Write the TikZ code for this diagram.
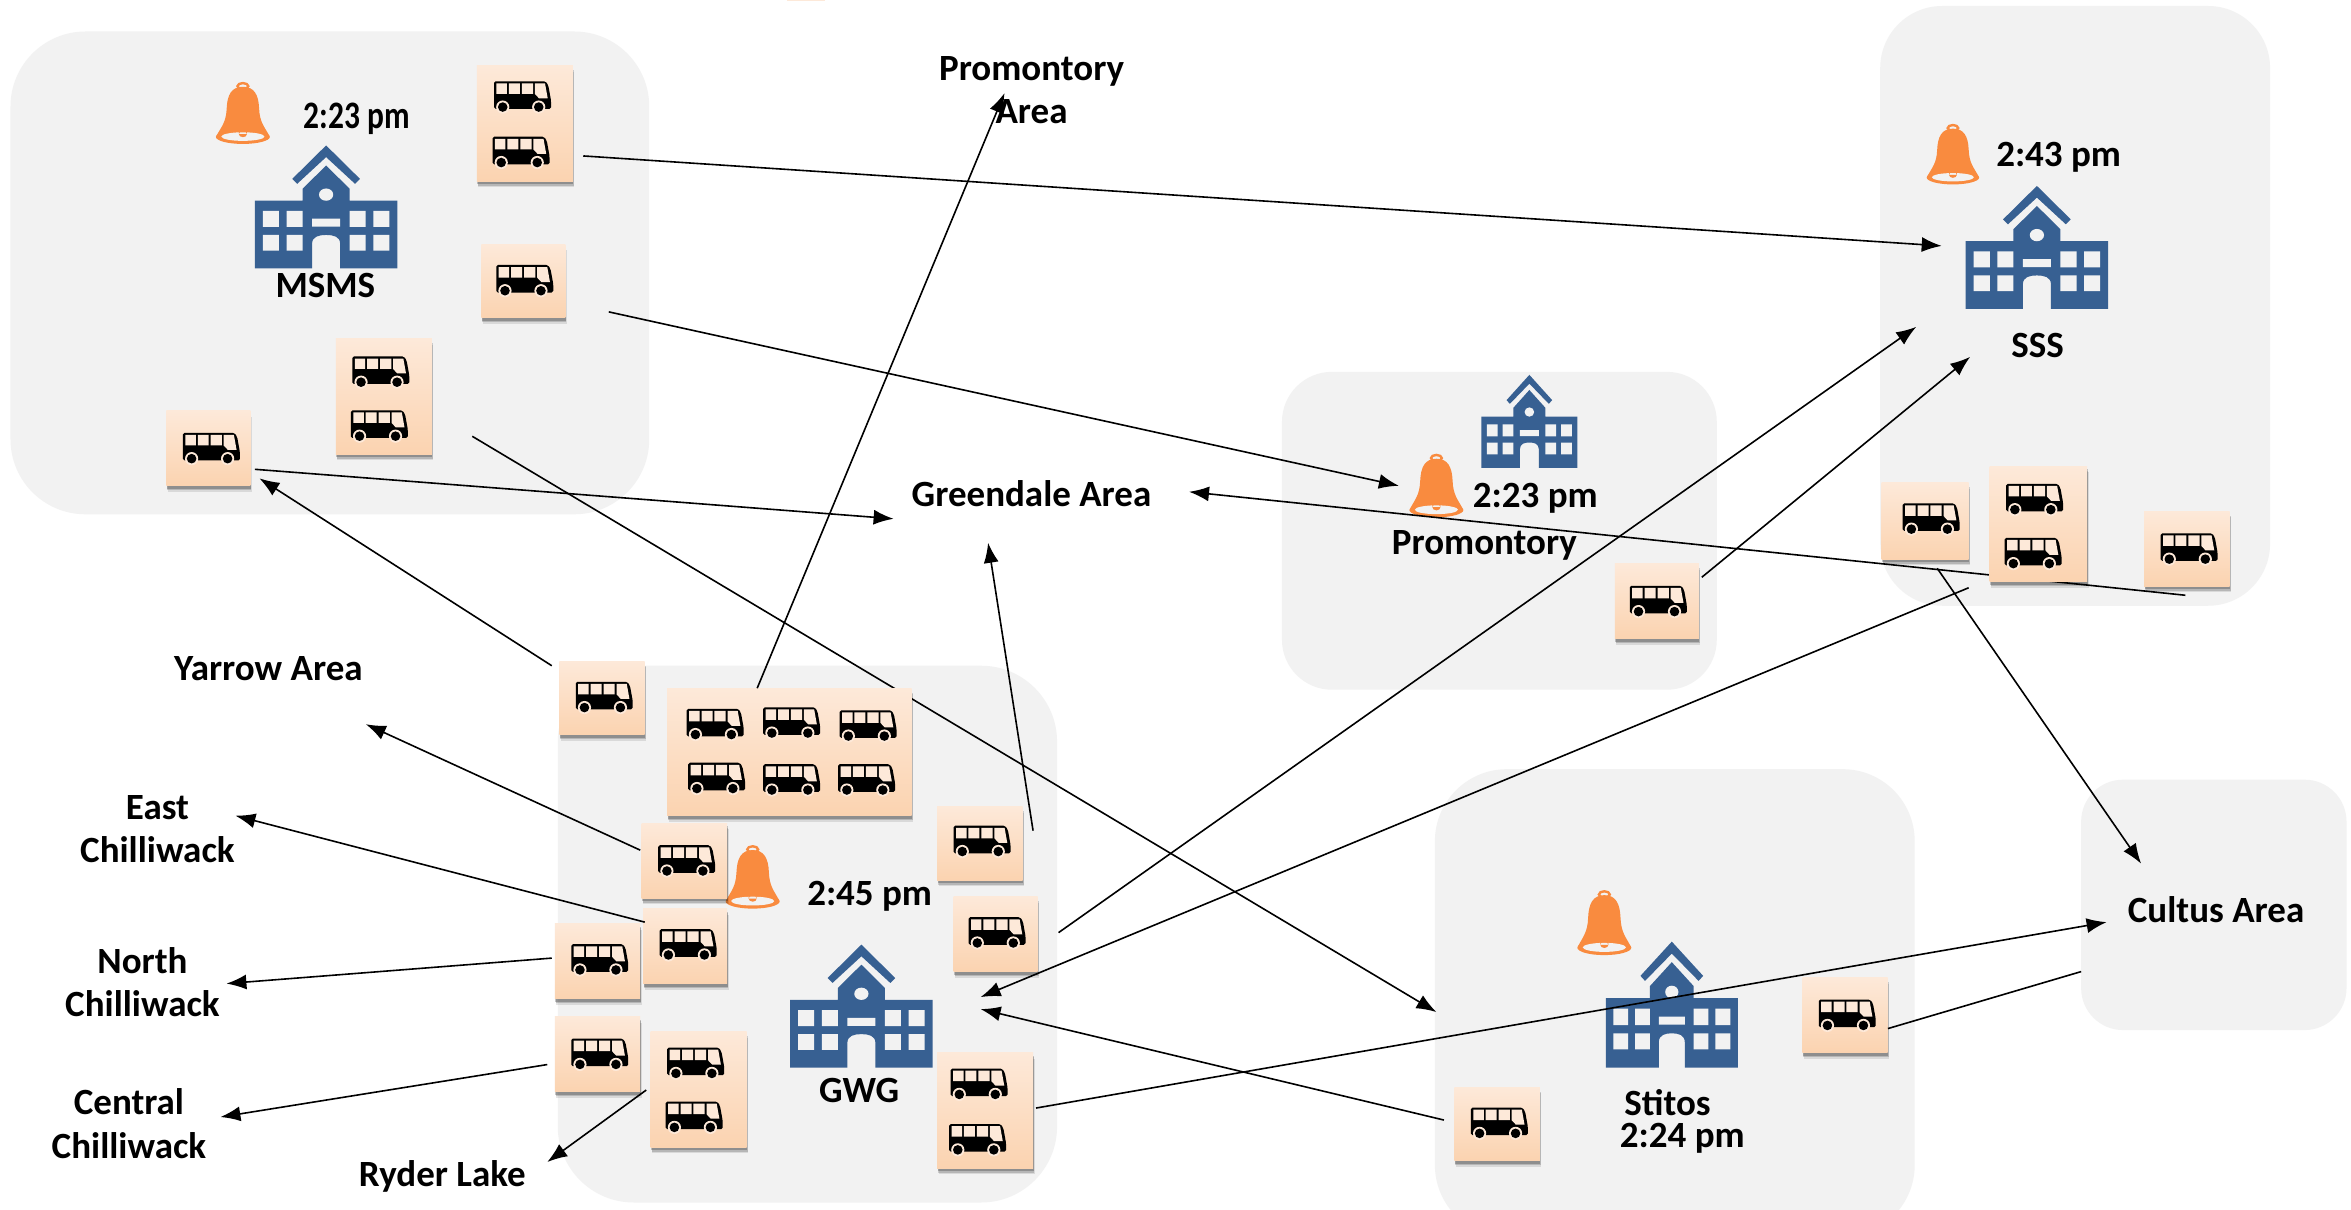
\documentclass[tikz,border=0pt]{standalone}
\usepackage{fontspec}
\setmainfont{Carlito}
\usetikzlibrary{arrows.meta,shadows}
\definecolor{panelgray}{HTML}{F2F2F2}
\definecolor{schoolblue}{HTML}{376092}
\definecolor{bellorange}{HTML}{F98B3F}
\definecolor{peachtop}{HTML}{FDE9D9}
\definecolor{peachmid}{HTML}{FCE2CE}
\definecolor{peachbot}{HTML}{FBD3B0}
\tikzset{
  panel/.style={fill=panelgray,inner sep=0pt,rectangle},
  busbox/.style={rectangle,inner sep=0pt,top color=peachtop,middle color=peachmid,bottom color=peachbot,
    general shadow={shadow xshift=1.5pt,shadow yshift=-6pt,opacity=.10,fill=black},
    general shadow={shadow xshift=1pt,shadow yshift=-4.5pt,opacity=.16,fill=black},
    general shadow={shadow xshift=0.5pt,shadow yshift=-3pt,opacity=.22,fill=black}},
  lbl/.style={font=\fontsize{37}{43.5}\selectfont\bfseries,align=center,inner sep=0pt,text=black},
  conn/.style={draw=black,line width=1.6pt,-{Latex[length=20pt,width=15pt]}},
  plainconn/.style={draw=black,line width=1.6pt}
}
\newcommand{\panelbox}[6]{\node[panel,rounded corners=#6pt,minimum width={(#4-#2)*1.4994pt},minimum height={(#5-#3)*1.4994pt}] (#1) at ({(#2+#4)/2},{(#3+#5)/2}) {};}
\newcommand{\bbox}[5]{\node[busbox,minimum width={(#4-#2)*1.4994pt},minimum height={(#5-#3)*1.4994pt}] (#1) at ({(#2+#4)/2},{(#3+#5)/2}) {};}
\newcommand{\busicon}[2]{%
  \begin{scope}[shift={({#1-19},{#2-10.5})}]
    \fill[black,rounded corners=1.6pt] (0,18.6) -- (0,0.2) -- (34.4,0.2) -- (36.2,3) -- (38,13) -- (38,18.6) -- cycle;
    \fill[peachtop] (1.6,1.6) rectangle (8.6,8.6) (9.9,1.6) rectangle (17.2,8.6) (18.5,1.6) rectangle (26,8.6);
    \fill[peachtop] (27.2,1.6) -- (34,1.6) -- (35.8,11.6) -- (30,11.6) -- (27.2,8.6) -- cycle;
    \fill[peachtop] (5.8,17.4) circle (4.4) (29.8,17.4) circle (4.4);
    \fill[black] (5.8,17.4) circle (3.2) (29.8,17.4) circle (3.2);
  \end{scope}}
\newcommand{\schoolicon}[4]{%
  \begin{scope}[shift={(#1,#2)},xscale=#3,yscale=#4]
    \fill[schoolblue] (0,0) -- (.475,.272) -- (.406,.312) -- (0,.095) -- (-.406,.312) -- (-.475,.272) -- cycle;
    \fill[schoolblue] (-1,1) -- (-1,.449) -- (-.331,.449) -- (-.331,.353) -- (0,.163) -- (.331,.353) -- (.331,.449) -- (1,.449) -- (1,1) -- (.197,1) -- (.197,.80) .. controls (.197,.74) and (.1,.728) .. (0,.728) .. controls (-.1,.728) and (-.197,.74) .. (-.197,.80) -- (-.197,1) -- cycle;
    \fill[panelgray] (-.887,.533) rectangle (-.662,.663) (-.556,.533) rectangle (-.331,.663) (.331,.533) rectangle (.556,.663) (.662,.533) rectangle (.887,.663)
      (-.887,.728) rectangle (-.662,.856) (-.556,.728) rectangle (-.331,.856) (.331,.728) rectangle (.556,.856) (.662,.728) rectangle (.887,.856)
      (-.197,.595) rectangle (.197,.66);
    \fill[panelgray] (0,.40) ellipse [x radius=.1,y radius=.05];
  \end{scope}}
\newcommand{\bellicon}[4]{%
  \begin{scope}[shift={(#1,#2)},xscale=#3,yscale=#4]
    \draw[bellorange,line width=2.4pt] (0,.06) ellipse [x radius=.2,y radius=.05];
    \fill[bellorange] (0,.07) .. controls (.42,.07) and (.58,.2) .. (.6,.42) .. controls (.62,.65) and (.8,.72) .. (.97,.86) -- (-.97,.86) .. controls (-.8,.72) and (-.62,.65) .. (-.6,.42) .. controls (-.58,.2) and (-.42,.07) .. (0,.07) -- cycle;
    \fill[bellorange] (0,.885) ellipse [x radius=1,y radius=.115];
    \fill[panelgray] (0,.88) ellipse [x radius=.8,y radius=.07];
    \fill[bellorange] (-.15,.74) rectangle (.15,.84) (0,.84) ellipse [x radius=.15,y radius=.05];
  \end{scope}}
\begin{document}
\begin{tikzpicture}[x=1.4994pt,y=-1.4994pt]
\path[clip] (0,0) rectangle (1568,807);
\fill[white] (0,0) rectangle (1568,807);
% panels
\panelbox{pMSMS}{7}{21}{433}{343}{75}
\panelbox{pProm}{855}{248}{1145}{460}{50}
\panelbox{pSSS}{1254}{4}{1514}{404}{62}
\panelbox{pGWG}{372}{444}{705}{802}{76}
\panelbox{pStitos}{957}{513}{1277}{825}{72}
\panelbox{pCultus}{1388}{520}{1565}{687}{42}
\node[rectangle,fill=peachtop,inner sep=0pt,minimum width=37.5pt,minimum height=15pt] (topstub) at (537.5,-4.2) {};
% labels
\node[lbl] (tMSMS) at (238,79) {\scalebox{.85}[1.05]{2:23 pm}};
\node[lbl] (nMSMS) at (217,190.5) {MSMS};
\node[lbl] (aProm) at (688,60) {Promontory\\Area};
\node[lbl] (aGreen) at (688,329.5) {Greendale Area};
\node[lbl] (aYarrow) at (179,446) {Yarrow Area};
\node[lbl] (aEast) at (105,553) {East\\Chilliwack};
\node[lbl] (aNorth) at (95,655) {North\\Chilliwack};
\node[lbl] (aCentral) at (86,749.5) {Central\\Chilliwack};
\node[lbl] (aRyder) at (295,784.5) {Ryder Lake};
\node[lbl] (tSSS) at (1373,105) {2:43 pm};
\node[lbl] (nSSS) at (1359,230.5) {SSS};
\node[lbl] (tProm) at (1024,332) {2:23 pm};
\node[lbl] (nProm) at (990,364) {Promontory};
\node[lbl] (tGWG) at (580,598) {2:45 pm};
\node[lbl] (nGWG) at (573,727) {GWG};
\node[lbl,font=\fontsize{37}{32}\selectfont\bfseries,align=left] (nStitos) at (1122,748) {\hspace*{4.5pt}Stitos\\2:24 pm};
\node[lbl] (aCultus) at (1478,607) {Cultus Area};
% schools and bells
\schoolicon{217.5}{97}{47.5}{82}
\schoolicon{574.5}{630}{47.5}{82}
\schoolicon{1358.5}{124}{47.5}{82}
\schoolicon{1020}{250}{32}{62}
\schoolicon{1115}{628}{44}{84}
\bellicon{162}{55}{18}{41}
\bellicon{502}{564}{18}{42}
\bellicon{1302.5}{83}{17.5}{40}
\bellicon{958}{303}{18}{42}
\bellicon{1070}{594}{18}{43}
% bus boxes (F and Q are drawn after the lines they hide)
\bbox{A}{318}{44}{382}{121}
\bbox{B}{321}{163}{377}{212}
\bbox{C}{224}{226}{288}{303}
\bbox{D}{111}{274}{167}{324}
\bbox{E}{373}{441}{430}{490}
\bbox{G}{428}{549}{485}{599}
\bbox{H}{429}{606}{485}{656}
\bbox{I}{370}{616}{427}{666}
\bbox{J}{370}{678}{427}{728}
\bbox{K}{434}{688}{498}{765}
\bbox{L}{625}{538}{682}{587}
\bbox{M}{636}{598}{692}{648}
\bbox{N}{625}{702}{689}{779}
\bbox{O}{1077}{376}{1133}{426}
\bbox{P}{1255}{322}{1313}{373}
\bbox{R}{1430}{341}{1487}{391}
\bbox{S}{970}{725}{1027}{774}
\bbox{T}{1202}{652}{1259}{702}
% free ends
\coordinate (eSSSa) at (1295,164);
\coordinate (eSSSb) at (1278,218);
\coordinate (eSSSc) at (1314,238);
\coordinate (ePromA) at (933,324);
\coordinate (eStitos) at (958,675);
\coordinate (eGreenA) at (596,346);
\coordinate (eGreenB) at (659,362);
\coordinate (eGreenC) at (793,328);
\coordinate (eD) at (173,319);
\coordinate (eAreaP) at (670,62);
\coordinate (eYarrow) at (244,483);
\coordinate (eEast) at (157,544);
\coordinate (eNorth) at (151,656);
\coordinate (eCentral) at (147,745);
\coordinate (eRyder) at (365,775);
\coordinate (eGWGa) at (654,665);
\coordinate (eGWGb) at (654,673);
\coordinate (eCultA) at (1428,576);
\coordinate (eCultB) at (1405,615);
\coordinate (sCult) at (1388,648);
% connectors hidden by boxes F and Q
\draw[conn] ([shift={(59,26.5)}]C.center) -- (eStitos);
\draw[conn] ([shift={(-1,31)}]R.center) -- (eGreenC);
\bbox{F}{445}{459}{608}{544}
\bbox{Q}{1327}{311}{1392}{388}
% buses
\busicon{348.5}{64.5}\busicon{347.5}{101.5}
\busicon{350}{187}
\busicon{254}{248}\busicon{253}{284}
\busicon{141}{299}
\busicon{403}{465}
\busicon{477}{483}\busicon{528}{482}\busicon{579}{484}
\busicon{478}{519}\busicon{528}{520}\busicon{578}{520}
\busicon{458}{574}\busicon{459}{630}\busicon{400}{640}\busicon{400}{703}
\busicon{464}{709}\busicon{463}{745}
\busicon{655}{561}\busicon{665}{622}
\busicon{653}{723}\busicon{652}{760}
\busicon{1106}{401}
\busicon{1288}{346}\busicon{1357}{333}\busicon{1356}{369}\busicon{1460}{366}
\busicon{1000}{749}\busicon{1232}{677}
% connectors
\draw[conn] ([shift={(39,21.5)}]A.center) -- (eSSSa);
\draw[conn] ([shift={(57,20.5)}]B.center) -- (ePromA);
\draw[conn] ([shift={(31,14)}]D.center) -- (eGreenA);
\draw[conn] ([shift={(-33.5,-21.5)}]E.center) -- (eD);
\draw[conn] ([shift={(-21.5,-42.5)}]F.center) -- (eAreaP);
\draw[conn] ([shift={(35.5,-8.5)}]L.center) -- (eGreenB);
\draw[conn] ([shift={(-29.5,-7)}]G.center) -- (eYarrow);
\draw[conn] ([shift={(-27,-16)}]H.center) -- (eEast);
\draw[conn] ([shift={(-30.5,-2)}]I.center) -- (eNorth);
\draw[conn] ([shift={(-33.5,7)}]J.center) -- (eCentral);
\draw[conn] ([shift={(-35,0.5)}]K.center) -- (eRyder);
\draw[conn] ([shift={(42,-1)}]M.center) -- (eSSSb);
\draw[conn] ([shift={(-46.5,42.5)}]Q.center) -- (eGWGa);
\draw[conn] ([shift={(30,-16)}]O.center) -- (eSSSc);
\draw[conn] ([shift={(8,31.5)}]P.center) -- (eCultA);
\draw[conn] ([shift={(-35.5,-2.5)}]S.center) -- (eGWGb);
\draw[conn] ([shift={(34,-1.5)}]N.center) -- (eCultB);
\draw[plainconn] (sCult) -- (T.east |- 0,686);
\end{tikzpicture}
\end{document}
